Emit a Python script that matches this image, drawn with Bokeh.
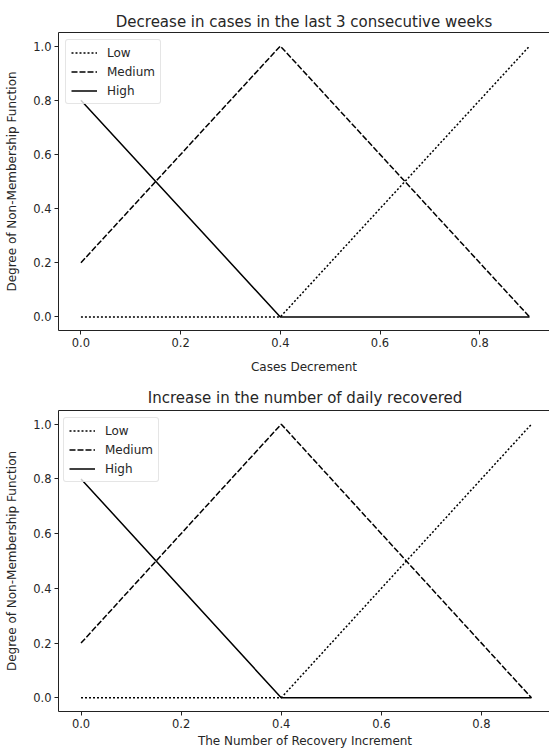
from bokeh.plotting import figure
from bokeh.layouts import column
from bokeh.models import Range1d, LinearAxis, FixedTicker, Legend, LegendItem, NumeralTickFormatter
from bokeh.embed import file_html
from bokeh.resources import INLINE

# Data
x_points = [0.0, 0.4, 0.9]
low = [0.0, 0.0, 1.0]
medium = [0.2, 1.0, 0.0]
high = [0.8, 0.0, 0.0]

titles = ["Decrease in cases in the last 3 consecutive weeks",
          "Increase in the number of daily recovered"]
xlabels = ["Cases Decrement", "The Number of Recovery Increment"]
ylabel = "Degree of Non-Membership Function"
x_ticks = [0.0, 0.2, 0.4, 0.6, 0.8]
y_ticks = [0.0, 0.2, 0.4, 0.6, 0.8, 1.0]

FONT = "DejaVu Sans"
TXT = "#262626"


def make_fig(title, xlabel, fw, fh, mb_left, mb_top, mb_bottom, xl_standoff, t_standoff, xt_standoff):
    p = figure(frame_width=fw, frame_height=fh, output_backend="svg",
               toolbar_location=None, x_range=Range1d(-0.045, 0.94),
               y_range=Range1d(-0.05, 1.05), min_border_left=mb_left,
               min_border_top=mb_top, min_border_bottom=mb_bottom,
               min_border_right=0, title=title)
    p.title.text_font = FONT
    p.title.text_font_size = "15px"
    p.title.text_font_style = "normal"
    p.title.text_color = TXT
    p.title.align = "center"
    p.title.standoff = t_standoff
    p.xgrid.visible = False
    p.ygrid.visible = False
    p.outline_line_color = None
    p.background_fill_color = "white"
    p.border_fill_color = "white"

    for ax in (p.xaxis[0], p.yaxis[0]):
        ax.axis_line_color = "#222222"
        ax.axis_line_width = 1
        ax.major_tick_line_color = "#222222"
        ax.major_tick_out = 4
        ax.major_tick_in = 0
        ax.minor_tick_line_color = None
        ax.major_label_text_font = FONT
        ax.major_label_text_font_size = "11.5px"
        ax.major_label_text_color = TXT
        ax.axis_label_text_font = FONT
        ax.axis_label_text_font_size = "12px"
        ax.axis_label_text_font_style = "normal"
        ax.axis_label_text_color = TXT
        ax.formatter = NumeralTickFormatter(format="0.0")
    p.xaxis[0].major_label_standoff = xt_standoff
    p.yaxis[0].major_label_standoff = 3
    p.xaxis[0].ticker = FixedTicker(ticks=x_ticks)
    p.yaxis[0].ticker = FixedTicker(ticks=y_ticks)
    p.xaxis[0].axis_label = xlabel
    p.yaxis[0].axis_label = ylabel
    p.xaxis[0].axis_label_standoff = xl_standoff
    p.yaxis[0].axis_label_standoff = 11

    top = LinearAxis(major_tick_line_color=None, minor_tick_line_color=None,
                     major_label_text_font_size="0px", axis_line_color="#222222")
    top.ticker = FixedTicker(ticks=[])
    p.add_layout(top, "above")

    r_low = p.line(x_points, low, line_color="black", line_width=1.5,
                   line_dash="2 2")
    r_med = p.line(x_points, medium, line_color="black", line_width=1.5,
                   line_dash="6 2")
    r_high = p.line(x_points, high, line_color="black", line_width=1.5)

    legend = Legend(items=[LegendItem(label="Low", renderers=[r_low]),
                           LegendItem(label="Medium", renderers=[r_med]),
                           LegendItem(label="High", renderers=[r_high])],
                    location="top_left", margin=7, padding=5, spacing=4,
                    glyph_width=26, glyph_height=15, label_standoff=10,
                    label_text_font=FONT, label_text_font_size="12px",
                    label_text_color=TXT, border_line_color="#cccccc",
                    border_line_width=1, background_fill_alpha=0.8,
                    label_height=15, border_radius=3)
    p.add_layout(legend, "center")
    return p


p1 = make_fig(titles[0], xlabels[0], 491, 298, 58, 32, 48, 10, 3, 3)
p2 = make_fig(titles[1], xlabels[1], 493, 301, 56, 32, 37, 3, 8, 3)

layout = column(p1, p2, spacing=0)

open("out.html", "w").write(file_html(layout, INLINE))
